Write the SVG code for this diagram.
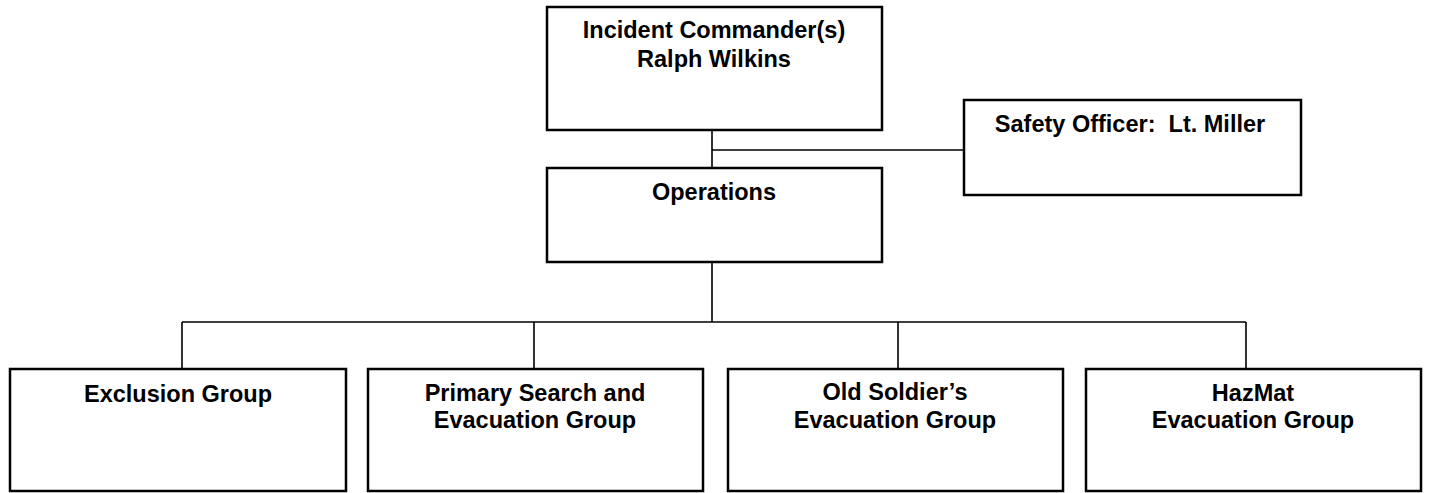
<svg xmlns="http://www.w3.org/2000/svg" width="1429" height="493" viewBox="0 0 1429 493">
<style>
.box{fill:#fff;stroke:#000;stroke-width:2.5}
.lbl{font-family:"Liberation Sans",Arial,sans-serif;font-weight:bold;font-size:23.5px;fill:#000;text-anchor:middle}
.con{fill:none;stroke:#000;stroke-width:1.6}
</style>
<rect width="1429" height="493" fill="#fff"/>
<g id="connectors">
<path class="con" d="M712 130V168M712 150H964M712 262V322M182 322H1246M182 322V369M534 322V369M898 322V369M1246 322V369"/>
</g>
<g id="incident-commander">
<rect class="box" x="547" y="7" width="335" height="123"/>
<text class="lbl" x="714" y="38">Incident Commander(s)</text>
<text class="lbl" x="714" y="67">Ralph Wilkins</text>
</g>
<g id="safety-officer">
<rect class="box" x="964" y="100" width="337" height="95"/>
<text class="lbl" x="1130" y="132" xml:space="preserve">Safety Officer:  Lt. Miller</text>
</g>
<g id="operations">
<rect class="box" x="547" y="168" width="335" height="94"/>
<text class="lbl" x="714" y="200">Operations</text>
</g>
<g id="exclusion-group">
<rect class="box" x="10" y="369" width="336" height="122"/>
<text class="lbl" x="178" y="402">Exclusion Group</text>
</g>
<g id="primary-search">
<rect class="box" x="368" y="369" width="335" height="122"/>
<text class="lbl" x="535" y="401">Primary Search and</text>
<text class="lbl" x="535" y="428">Evacuation Group</text>
</g>
<g id="old-soldiers">
<rect class="box" x="728" y="369" width="335" height="122"/>
<text class="lbl" x="895" y="400">Old Soldier’s</text>
<text class="lbl" x="895" y="428">Evacuation Group</text>
</g>
<g id="hazmat">
<rect class="box" x="1086" y="369" width="335" height="122"/>
<text class="lbl" x="1253" y="401">HazMat</text>
<text class="lbl" x="1253" y="428">Evacuation Group</text>
</g>
</svg>
